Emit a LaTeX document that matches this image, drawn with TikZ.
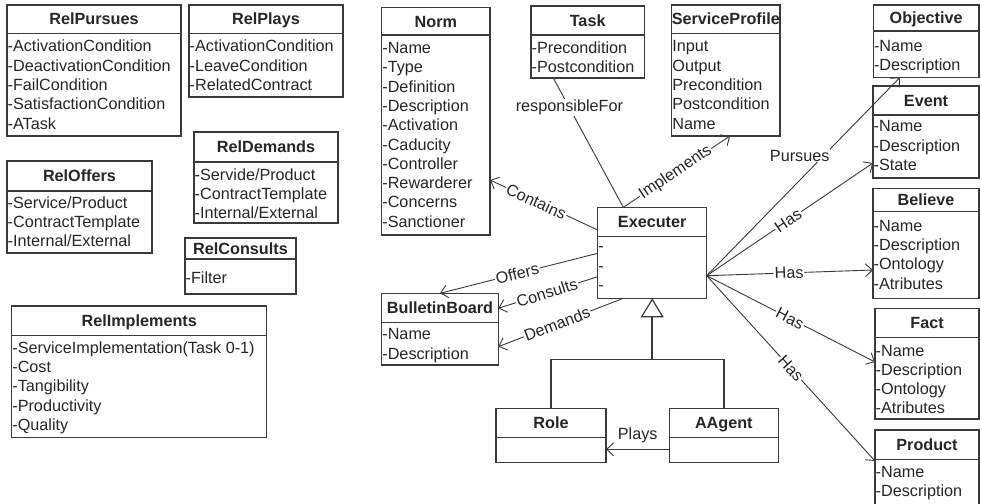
\documentclass[tikz,border=0pt]{standalone}
\usepackage{fontspec}
\setmainfont{Liberation Sans}
\usetikzlibrary{arrows.meta}
\definecolor{linecol}{HTML}{3A3A3A}
\definecolor{textcol}{HTML}{262626}
\tikzset{
  classbox/.style={draw=linecol, line width=1.1pt, fill=white, inner sep=0pt, outer sep=0pt, anchor=north west},
  divline/.style={draw=linecol, line width=1.1pt},
  titletext/.style={font=\fontsize{16.2}{19.3}\selectfont\bfseries, text=textcol, anchor=base, inner sep=0pt},
  attrtext/.style={font=\fontsize{16.2}{19.3}\selectfont, text=textcol, anchor=base west, inner sep=0pt},
  conn/.style={draw=linecol, line width=0.9pt},
  openarrow/.style={-{Straight Barb[length=7pt,width=13pt]}},
  lbl/.style={font=\fontsize{16.2}{19.3}\selectfont, text=textcol, fill=white, inner sep=1pt},
  genline/.style={draw=linecol, line width=1.6pt},
}
% #1 name, #2 left, #3 top, #4 right, #5 divider, #6 bottom, #7 title, #8 items, #9 first baseline offset
\newcommand\umlbox[9]{%
  \pgfmathsetmacro\ubw{#4-#2}%
  \pgfmathsetmacro\ubh{#6-#3}%
  \pgfmathsetmacro\ubcx{(#2+#4)/2}%
  \pgfmathsetmacro\ubty{(#3+#5)/2+5.8}%
  \pgfmathsetmacro\ubfy{#5+#9}%
  \node[classbox, minimum width=\ubw pt, minimum height=\ubh pt] (#1) at (#2,#3) {};
  \draw[divline] (#1.west |- 0,#5) -- (#1.east |- 0,#5);
  \node[titletext] (#1-title) at (\ubcx,\ubty) {#7};
  \if\relax\detokenize{#8}\relax\else
  \foreach \t [count=\i] in {#8} {
    \pgfmathsetmacro\ubyy{\ubfy+(\i-1)*19.3}
    \node[attrtext] (#1-\i) at (#2+0.5,\ubyy) {\t};
  }
  \fi
}
\begin{document}
\begin{tikzpicture}[x=1pt,y=-1pt]
\useasboundingbox (0,0) rectangle (981,503);
\clip (0,0) rectangle (981,503);
\fill[white] (0,0) rectangle (981,503);

% left-hand relation boxes
\umlbox{relpursues}{7}{5}{181}{33.3}{136}{RelPursues}{-ActivationCondition,-DeactivationCondition,-FailCondition,-SatisfactionCondition,-ATask}{18.5}
\umlbox{relplays}{189}{5}{343}{33.3}{97}{RelPlays}{-ActivationCondition,-LeaveCondition,-RelatedContract}{18.5}
\umlbox{reldemands}{194}{132}{338}{162}{223}{RelDemands}{-Servide/Product,-ContractTemplate,-Internal/External}{18}
\umlbox{reloffers}{7}{161}{152}{191}{253}{RelOffers}{-Service/Product,-ContractTemplate,-Internal/External}{17}
\umlbox{relconsults}{185}{238}{296}{259}{294}{RelConsults}{-Filter}{24}
\umlbox{relimplements}{11.7}{306}{266.7}{335.7}{437.7}{RelImplements}{-ServiceImplementation(Task 0-1),-Cost,-Tangibility,-Productivity,-Quality}{17.5}

% central boxes
\umlbox{norm}{381.7}{7.7}{490}{35}{235}{Norm}{-Name,-Type,-Definition,-Description,-Activation,-Caducity,-Controller,-Rewarderer,-Concerns,-Sanctioner}{18.5}
\umlbox{task}{531}{6}{644.3}{35}{78}{Task}{-Precondition,-Postcondition}{18}
\umlbox{serviceprofile}{671.7}{5}{780}{33.3}{136}{ServiceProfile}{Input,Output,Precondition,Postcondition,Name}{18.5}
\umlbox{executer}{597.7}{207.3}{706.7}{236.7}{298.3}{Executer}{-,-,-}{15}
\umlbox{bulletinboard}{381.7}{293.3}{498.3}{322.7}{365}{BulletinBoard}{-Name,-Description}{17}
\umlbox{role}{496}{408.3}{606}{437.3}{462.7}{Role}{}{18}
\umlbox{aagent}{669.3}{408.3}{778.3}{437.3}{462.7}{AAgent}{}{18}

% right-hand boxes
\umlbox{objective}{873.3}{5}{979}{31}{77.3}{Objective}{-Name,-Description}{20.5}
\umlbox{event}{873}{86}{979}{115}{178}{Event}{-Name,-Description,-State}{16.7}
\umlbox{believe}{873}{188.3}{979}{211.7}{298.3}{Believe}{-Name,-Description,-Ontology,-Atributes}{19.5}
\umlbox{fact}{875}{308.3}{979}{337.3}{419}{Fact}{-Name,-Description,-Ontology,-Atributes}{18.7}
\umlbox{product}{875}{430}{979}{459.3}{515}{Product}{-Name,-Description}{18}

% connectors
\coordinate (hub) at (executer.east |- 0,275.7);
\draw[conn, openarrow] (executer.west |- 0,230) -- node[lbl, sloped, pos=0.57] (lcontains) {Contains} (norm.east |- 0,180);
\draw[conn] (task.south -| 553.3,0) -- node[lbl, pos=0.23] (lresp) {responsibleFor} (executer.north -| 623.3,0);
\draw[conn, openarrow] (executer.north -| 623.3,0) -- node[lbl, sloped, pos=0.49] (limpl) {Implements} (serviceprofile.south -| 730,0);
\draw[conn, openarrow] (executer.west |- 0,253.3) -- node[lbl, sloped, pos=0.51] (loffers) {Offers} (bulletinboard.north -| 440,0);
\draw[conn, openarrow] (executer.west |- 0,276.7) -- node[lbl, sloped, pos=0.51] (lconsults) {Consults} (bulletinboard.east |- 0,308.3);
\draw[conn, openarrow] (executer.south -| 623.3,0) -- node[lbl, sloped, pos=0.53] (ldemands) {Demands} (bulletinboard.east |- 0,346.7);
\draw[conn, openarrow] (hub) -- (objective.south -| 900,0);
\node[lbl] (lpursues) at (799.7,155.7) {Pursues};
\draw[conn, openarrow] (hub) -- node[lbl, sloped, pos=0.49] (lhas1) {Has} (event.west |- 0,163);
\draw[conn, openarrow] (hub) -- node[lbl, sloped, pos=0.495] (lhas2) {Has} (believe.west |- 0,270);
\draw[conn, openarrow] (hub) -- node[lbl, sloped, pos=0.495] (lhas3) {Has} (fact.west |- 0,362);
\draw[conn, openarrow] (hub) -- node[lbl, sloped, pos=0.5] (lhas4) {Has} (product.west |- 0,461);
\draw[conn, openarrow] (aagent.west |- 0,449.3) -- node[font=\fontsize{16.2}{19.3}\selectfont, text=textcol, above=6pt, inner sep=0pt, midway] (lplays) {Plays} (role.east |- 0,449.3);

% generalization
\coordinate (genj) at (executer.south |- 0,359.3);
\draw[genline] (role.north) |- (genj) -| (aagent.north);
\draw[genline, -{Triangle[open, length=19pt, width=23pt, line width=1.2pt]}] (genj) -- (executer.south);
\end{tikzpicture}
\end{document}
